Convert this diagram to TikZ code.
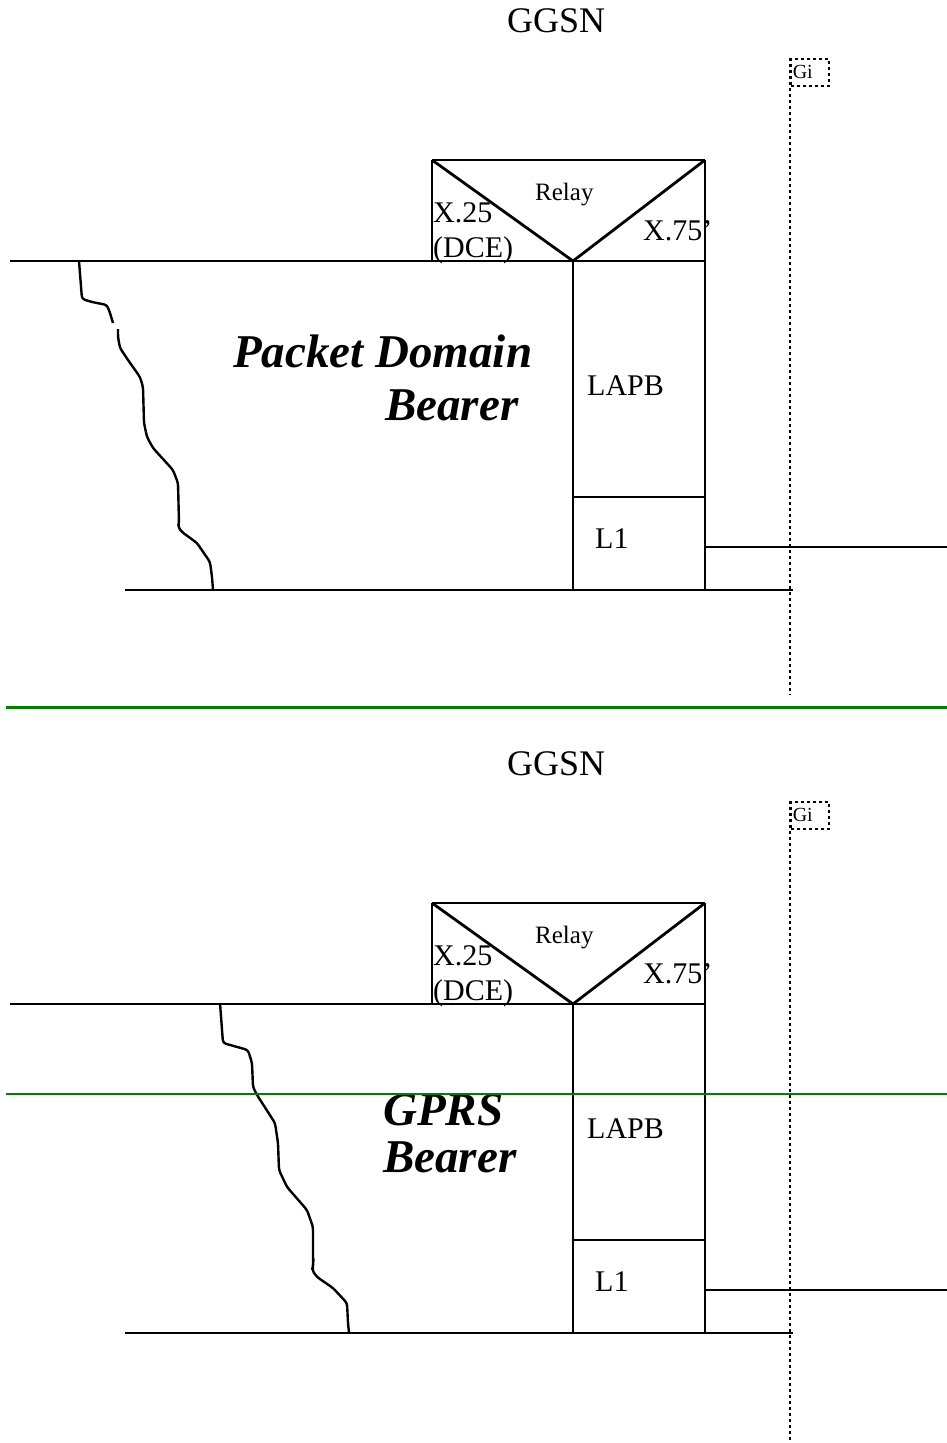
\documentclass[tikz,border=0pt]{standalone}
\usepackage{fontspec}
\setmainfont{Liberation Serif}
\usetikzlibrary{positioning}

\definecolor{sepgreen}{RGB}{0,128,0}

\begin{document}
\begin{tikzpicture}[
    x=1pt, y=-1pt,
    stack/.style={line width=2.2pt},
    relayline/.style={line width=2.8pt},
    cut/.style={line width=2.4pt, rounded corners=3pt},
    gidots/.style={line width=1.6pt, dash pattern=on 3pt off 3pt},
    txt/.style={inner sep=0pt, anchor=base west},
    title/.style={txt, font=\fontsize{36}{36}\selectfont},
    layer/.style={txt, font=\fontsize{30}{30}\selectfont},
    relaytxt/.style={txt, font=\fontsize{25}{25}\selectfont},
    bearer/.style={txt, font=\fontsize{47}{47}\selectfont\bfseries\itshape},
    gibox/.style={draw, gidots, anchor=north west, inner xsep=2pt, inner ysep=0pt,
                  text width=34pt, minimum height=27pt, align=left, font=\fontsize{20}{20}\selectfont},
]
\useasboundingbox (0,0) rectangle (947,1443);

% ---- upper stack
\node[title] (ggsn1) at (507,32) {GGSN};
\node[gibox] (gi1) at (790,58) {Gi};
\coordinate (giend1) at (790,695);
\draw[gidots] (gi1.north west) -- (giend1);

\coordinate (relayNW1) at (432,160);
\coordinate (relayNE1) at (705,160);
\coordinate (relayV1) at (573,261);
\draw[stack] (relayNW1) -- (relayNE1);
\draw[stack] (relayNW1) -- (432,261);
\draw[stack] (relayNE1) -- (705,590);
\draw[stack] (10,261) -- (705,261);
\draw[stack] (relayV1) -- (573,590);
\draw[stack] (573,497) -- (705,497);
\draw[stack] (705,547) -- (947,547);
\draw[stack] (125,590) -- (793,590);
\draw[relayline] (relayNW1) -- (relayV1) -- (relayNE1);

\node[relaytxt] (relay1) at (535,200) {Relay};
\node[layer] (x25a) at (433,222) {X.25};
\node[layer] (dce1) at (433,257) {(DCE)};
\node[layer] (x75a) at (643,240) {X.75’};
\node[layer] (lapb1) at (587,395) {LAPB};
\node[layer] (l1a) at (595,548) {L1};

\node[bearer] (pd1) at (233,367) {Packet Domain};
\node[bearer] (bearer1) at (385,420) {Bearer};

\draw[cut] (79,261) -- (82,299) -- (92,302) -- (107,305) -- (110,313) -- (113,323);
\draw[cut] (118,329) -- (118,337) -- (120,348) -- (128,360) -- (140,377) -- (143,387)
  -- (144,423) -- (147,437) -- (153,448) -- (173,470) -- (178,483) -- (179,523)
  -- (178,527) -- (182,532) -- (197,543) -- (210,562) -- (212,577) -- (213,590);

\draw[sepgreen, line width=3pt] (6,707) -- (947,707);

% ---- lower stack
\node[title] (ggsn2) at (507,775) {GGSN};
\node[gibox] (gi2) at (790,801) {Gi};
\coordinate (giend2) at (790,1443);
\draw[gidots] (gi2.north west) -- (giend2);

\coordinate (relayNW2) at (432,903);
\coordinate (relayNE2) at (705,903);
\coordinate (relayV2) at (573,1004);
\draw[stack] (relayNW2) -- (relayNE2);
\draw[stack] (relayNW2) -- (432,1004);
\draw[stack] (relayNE2) -- (705,1333);
\draw[stack] (10,1004) -- (705,1004);
\draw[stack] (relayV2) -- (573,1333);
\draw[stack] (573,1240) -- (705,1240);
\draw[stack] (705,1290) -- (947,1290);
\draw[stack] (125,1333) -- (793,1333);
\draw[relayline] (relayNW2) -- (relayV2) -- (relayNE2);

\node[relaytxt] (relay2) at (535,943) {Relay};
\node[layer] (x25b) at (433,965) {X.25};
\node[layer] (dce2) at (433,1000) {(DCE)};
\node[layer] (x75b) at (643,983) {X.75’};
\node[layer] (lapb2) at (587,1138) {LAPB};
\node[layer] (l1b) at (595,1291) {L1};

\node[bearer] (gprs2) at (383,1125) {GPRS};
\node[bearer] (bearer2) at (383,1172) {Bearer};

\draw[cut] (220,1003) -- (223,1043) -- (248,1050) -- (252,1063) -- (253,1087)
  -- (257,1095) -- (275,1123) -- (278,1143) -- (279,1170) -- (287,1187) -- (307,1210)
  -- (313,1227) -- (313,1267) -- (312,1270) -- (317,1277) -- (333,1288) -- (347,1303)
  -- (348,1323) -- (349,1333);

\draw[sepgreen, line width=2pt] (6,1094) -- (947,1094);

\end{tikzpicture}
\end{document}
